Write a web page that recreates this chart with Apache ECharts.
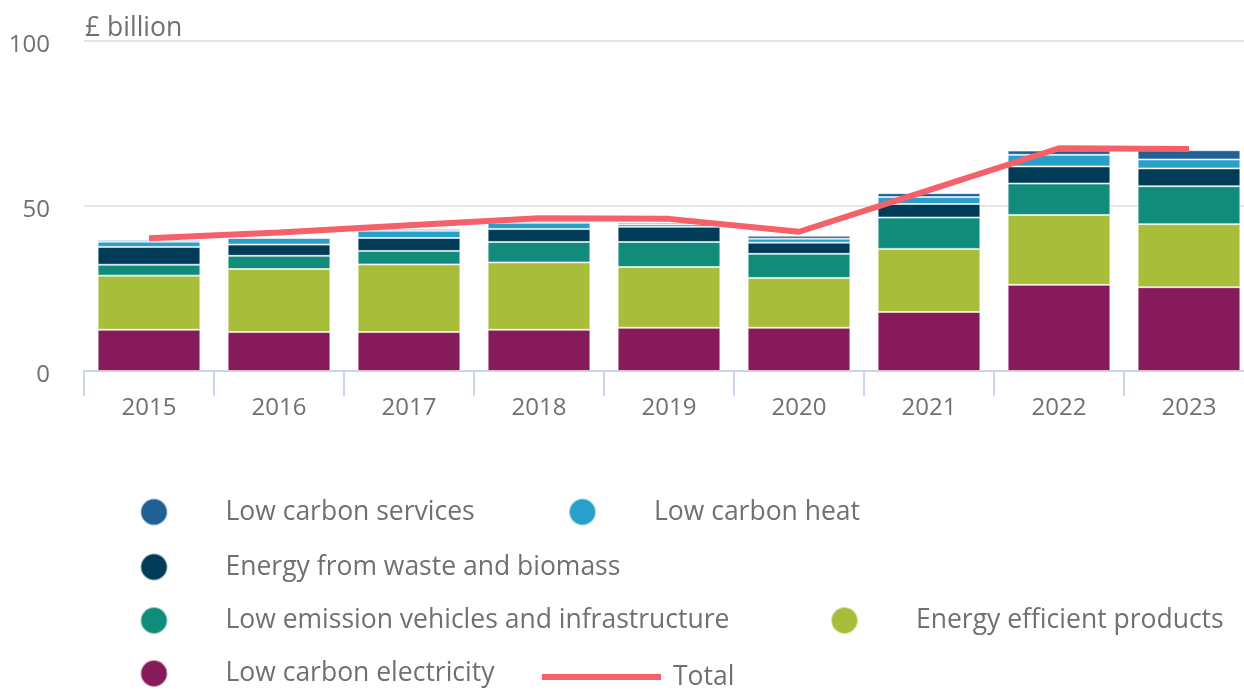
<!DOCTYPE html>
<html>
<head>
<meta charset="utf-8">
<script src="https://cdn.jsdelivr.net/npm/echarts@6/dist/echarts.min.js"></script>
<style>
html,body{margin:0;padding:0;background:#fff;}
#chart{width:1244px;height:691px;}
</style>
</head>
<body>
<div id="chart"></div>
<script>
var years = ['2015','2016','2017','2018','2019','2020','2021','2022','2023'];
var electricity = [12.5, 11.8, 11.8, 12.5, 13.1, 13.1, 17.9, 26.1, 25.4];
var efficient = [16.4, 19.1, 20.5, 20.4, 18.4, 15.1, 19.1, 21.2, 19.1];
var vehicles = [3.3, 4.0, 4.1, 6.2, 7.6, 7.3, 9.5, 9.5, 11.5];
var waste = [5.4, 3.4, 3.9, 3.9, 4.6, 3.4, 4.1, 5.2, 5.4];
var heat = [1.6, 2.0, 2.2, 1.9, 0.8, 1.2, 2.1, 3.5, 2.7];
var services = [0.5, 0.3, 0.5, 0.5, 0.5, 0.9, 1.2, 1.3, 2.8];
var total = [40.2, 42.0, 44.2, 46.3, 46.1, 42.2, 54.8, 67.5, 67.3];
var yTicks = [0, 50, 100];

var FONT = '"Open Sans", "Noto Sans", sans-serif';
var TXT = '#707071';
var LFS = 26.5;

var names = {
  el: 'Low carbon electricity',
  ee: 'Energy efficient products',
  lev: 'Low emission vehicles and infrastructure',
  wb: 'Energy from waste and biomass',
  heat: 'Low carbon heat',
  svc: 'Low carbon services',
  tot: 'Total'
};
var colors = {
  el: '#871a5b', ee: '#a8bd3a', lev: '#118c7b', wb: '#003c57',
  heat: '#27a0cc', svc: '#206095', tot: '#f66068'
};

function barSeries(key, data) {
  return {
    name: names[key], type: 'bar', stack: 'a', data: data,
    barCategoryGap: '21%',
    itemStyle: { color: colors[key], borderColor: 'rgba(255,255,255,0.55)', borderWidth: 1 },
    emphasis: { disabled: true }
  };
}

function circleLegend(key, left, cy) {
  return {
    data: [{ name: names[key], icon: 'circle' }],
    left: left, top: cy - 14, padding: 0,
    itemWidth: 27, itemHeight: 27,
    selectedMode: false,
    textStyle: { fontFamily: FONT, fontSize: LFS, color: TXT, padding: [0, 0, 0, 53] }
  };
}

var legends = [
  circleLegend('svc', 139.5, 511.5),
  circleLegend('heat', 568, 511.5),
  circleLegend('wb', 139.5, 566.5),
  circleLegend('lev', 139.5, 620),
  circleLegend('ee', 830, 620),
  circleLegend('el', 139.5, 673),
  {
    data: [{ name: names.tot, icon: 'rect' }],
    left: 542, top: 675 - 11.5, padding: 0,
    itemWidth: 119, itemHeight: 6,
    selectedMode: false,
    textStyle: { fontFamily: FONT, fontSize: LFS, color: TXT, padding: [0, 0, 0, 7] }
  }
];

var chart = echarts.init(document.getElementById('chart'), null, { renderer: 'canvas' });
chart.setOption({
  animation: false,
  backgroundColor: '#ffffff',
  grid: { left: 84, width: 1170, top: 41, height: 330, outerBoundsMode: 'none', containLabel: false },
  graphic: [{
    type: 'text', left: 85, top: 15,
    style: { text: '£ billion', font: '26.5px ' + FONT, fill: TXT }
  }],
  legend: legends,
  xAxis: {
    type: 'category', data: years,
    axisLine: { lineStyle: { color: '#ccd6eb', width: 2 } },
    axisTick: { show: true, length: 25, lineStyle: { color: '#ccd6eb', width: 2 } },
    axisLabel: { fontFamily: FONT, fontSize: 24, color: TXT, margin: 25 }
  },
  yAxis: {
    type: 'value', min: yTicks[0], max: yTicks[yTicks.length - 1], interval: 50,
    axisLine: { show: false }, axisTick: { show: false },
    axisLabel: {
      fontFamily: FONT, fontSize: 24, color: TXT, margin: 34,
      formatter: '{v|{value}}',
      rich: { v: { fontFamily: FONT, fontSize: 24, color: TXT, padding: [8, 0, 0, 0] } }
    },
    splitLine: { lineStyle: { color: '#e6e6e6', width: 2 } }
  },
  series: [
    barSeries('el', electricity),
    barSeries('ee', efficient),
    barSeries('lev', vehicles),
    barSeries('wb', waste),
    barSeries('heat', heat),
    barSeries('svc', services),
    {
      name: names.tot, type: 'line', data: total, z: 5,
      symbol: 'none', showSymbol: false,
      lineStyle: { color: colors.tot, width: 6 },
      itemStyle: { color: colors.tot },
      emphasis: { disabled: true }
    }
  ]
});
</script>
</body>
</html>
